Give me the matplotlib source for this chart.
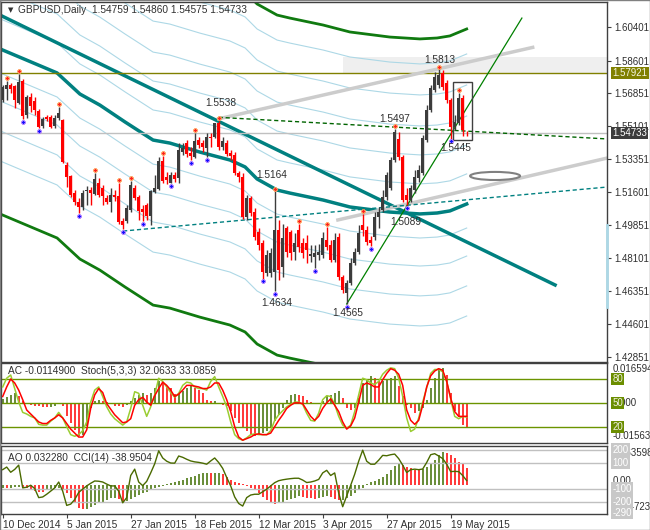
import numpy as np
import matplotlib
matplotlib.use("Agg")
import matplotlib.pyplot as plt
import matplotlib.transforms as mtransforms
from matplotlib.patches import Rectangle, Ellipse

plt.rcParams['font.family'] = ['Liberation Sans', 'DejaVu Sans']

# ---- daily GBPUSD candles (bar 0 = 10 Dec 2014) ----
opens = [1.5650, 1.5709, 1.5730, 1.5725, 1.5634, 1.5751, 1.5570, 1.5666, 1.5645, 1.5591,
         1.5512, 1.5560, 1.5560, 1.5512, 1.5554, 1.5544, 1.5304, 1.5246, 1.5155, 1.5107,
         1.5081, 1.5166, 1.5171, 1.5150, 1.5208, 1.5182, 1.5129, 1.5107, 1.5145, 1.5139,
         1.5006, 1.5006, 1.5065, 1.5182, 1.5134, 1.5070, 1.5091, 1.5033, 1.5161, 1.5177,
         1.5325, 1.5240, 1.5208, 1.5251, 1.5235, 1.5373, 1.5421, 1.5368, 1.5347, 1.5437,
         1.5421, 1.5395, 1.5453, 1.5453, 1.5528, 1.5400, 1.5421, 1.5368, 1.5357, 1.5262,
         1.5240, 1.5028, 1.5129, 1.5054, 1.4948, 1.4889, 1.4730, 1.4730, 1.4735, 1.4958,
         1.4762, 1.4969, 1.4948, 1.4841, 1.4958, 1.4889, 1.4889, 1.4820, 1.4815, 1.4825,
         1.4825, 1.4905, 1.4879, 1.4799, 1.4921, 1.4708, 1.4623, 1.4676, 1.4783, 1.4841,
         1.4985, 1.4958, 1.4905, 1.4921, 1.5028, 1.5065, 1.5134, 1.5182, 1.5331, 1.5443,
         1.5347, 1.5145, 1.5118, 1.5171, 1.5235, 1.5262, 1.5437, 1.5597, 1.5703, 1.5730,
         1.5794, 1.5740, 1.5650, 1.5506, 1.5528, 1.5661, 1.54759]
highs = [1.5730, 1.5751, 1.5740, 1.5730, 1.5788, 1.5762, 1.5677, 1.5687, 1.5666, 1.5602,
         1.5560, 1.5570, 1.5570, 1.5570, 1.5613, 1.5549, 1.5320, 1.5251, 1.5171, 1.5129,
         1.5171, 1.5192, 1.5187, 1.5262, 1.5235, 1.5198, 1.5145, 1.5182, 1.5171, 1.5208,
         1.5022, 1.5091, 1.5219, 1.5198, 1.5145, 1.5091, 1.5102, 1.5171, 1.5251, 1.5347,
         1.5352, 1.5267, 1.5267, 1.5267, 1.5421, 1.5421, 1.5437, 1.5400, 1.5474, 1.5453,
         1.5437, 1.5474, 1.5474, 1.5530, 1.5538, 1.5453, 1.5437, 1.5384, 1.5373, 1.5272,
         1.5262, 1.5145, 1.5139, 1.5075, 1.4969, 1.4905, 1.4852, 1.4863, 1.5164, 1.5012,
         1.4990, 1.4980, 1.4958, 1.4942, 1.4990, 1.4916, 1.4932, 1.4878, 1.4878, 1.4884,
         1.4948, 1.4974, 1.4905, 1.4942, 1.4942, 1.4719, 1.4692, 1.4809, 1.4863, 1.4985,
         1.5044, 1.4980, 1.4926, 1.5054, 1.5081, 1.5171, 1.5267, 1.5347, 1.5497, 1.5480,
         1.5357, 1.5182, 1.5198, 1.5278, 1.5304, 1.5464, 1.5623, 1.5730, 1.5799, 1.5813,
         1.5810, 1.5756, 1.5661, 1.5570, 1.5687, 1.5677, 1.54860]
lows = [1.5639, 1.5650, 1.5687, 1.5607, 1.5629, 1.5549, 1.5554, 1.5586, 1.5570, 1.5501,
        1.5501, 1.5538, 1.5501, 1.5501, 1.5544, 1.5315, 1.5187, 1.5134, 1.5091, 1.5049,
        1.5065, 1.5091, 1.5091, 1.5145, 1.5134, 1.5091, 1.5097, 1.5054, 1.5113, 1.4990,
        1.4964, 1.4996, 1.5054, 1.5118, 1.5012, 1.5006, 1.5012, 1.4985, 1.5155, 1.5171,
        1.5208, 1.5203, 1.5208, 1.5214, 1.5208, 1.5357, 1.5347, 1.5331, 1.5341, 1.5395,
        1.5373, 1.5347, 1.5400, 1.5448, 1.5384, 1.5384, 1.5352, 1.5331, 1.5251, 1.5214,
        1.5017, 1.5012, 1.5033, 1.4905, 1.4852, 1.4700, 1.4714, 1.4710, 1.4634, 1.4692,
        1.4708, 1.4815, 1.4799, 1.4799, 1.4841, 1.4809, 1.4783, 1.4788, 1.4756, 1.4799,
        1.4809, 1.4852, 1.4788, 1.4788, 1.4692, 1.4623, 1.4565, 1.4666, 1.4772, 1.4831,
        1.4926, 1.4879, 1.4873, 1.4905, 1.4969, 1.5054, 1.5118, 1.5171, 1.5320, 1.5331,
        1.5107, 1.5089, 1.5107, 1.5155, 1.5214, 1.5251, 1.5427, 1.5586, 1.5693, 1.5714,
        1.5703, 1.5634, 1.5445, 1.5490, 1.5517, 1.5459, 1.54575]
closes = [1.5719, 1.5730, 1.5709, 1.5650, 1.5746, 1.5565, 1.5666, 1.5618, 1.5597, 1.5506,
          1.5549, 1.5549, 1.5506, 1.5554, 1.5581, 1.5320, 1.5240, 1.5145, 1.5107, 1.5081,
          1.5155, 1.5171, 1.5155, 1.5230, 1.5145, 1.5139, 1.5107, 1.5145, 1.5134, 1.5001,
          1.4985, 1.5075, 1.5198, 1.5129, 1.5059, 1.5054, 1.5033, 1.5166, 1.5182, 1.5325,
          1.5219, 1.5224, 1.5251, 1.5230, 1.5384, 1.5395, 1.5363, 1.5352, 1.5432, 1.5411,
          1.5400, 1.5453, 1.5448, 1.5528, 1.5400, 1.5432, 1.5363, 1.5352, 1.5262, 1.5240,
          1.5028, 1.5129, 1.5049, 1.4921, 1.4879, 1.4735, 1.4825, 1.4836, 1.4958, 1.4746,
          1.4916, 1.4841, 1.4836, 1.4889, 1.4868, 1.4836, 1.4852, 1.4831, 1.4836, 1.4841,
          1.4916, 1.4868, 1.4799, 1.4905, 1.4708, 1.4639, 1.4676, 1.4783, 1.4841, 1.4942,
          1.4958, 1.4894, 1.4889, 1.5028, 1.5054, 1.5134, 1.5251, 1.5331, 1.5480, 1.5347,
          1.5118, 1.5118, 1.5182, 1.5240, 1.5278, 1.5448, 1.5597, 1.5714, 1.5772, 1.5783,
          1.5719, 1.5650, 1.5506, 1.5533, 1.5661, 1.5490, 1.54733]

date_labels = ['10 Dec 2014', '5 Jan 2015', '27 Jan 2015', '18 Feb 2015',
               '12 Mar 2015', '3 Apr 2015', '27 Apr 2015', '19 May 2015']
date_bars = [0, 16, 32, 48, 64, 80, 96, 112]

# fractals
up_fractals = [1, 4, 14, 23, 29, 32, 40, 48, 54, 68, 74, 81, 90, 98, 109, 114]
down_fractals = [5, 9, 19, 30, 35, 42, 47, 51, 65, 68, 78, 86, 92, 101, 112]

# moving average read at knots (bar, price)
ma_bars = [-1.2, 0, 13.6, 19.3, 24.3, 30.6, 37.6, 41.8, 49.3, 56.8, 60.6, 63.6,
           68.6, 71.8, 80.1, 86.8, 96.8, 104.3, 108.6, 111.8, 116]
ma_price = [1.5927, 1.5916, 1.5794, 1.5682, 1.5623, 1.5533, 1.5437, 1.5421, 1.5373,
            1.5331, 1.5294, 1.5230, 1.5171, 1.5155, 1.5118, 1.5081, 1.5054, 1.5044,
            1.5049, 1.5060, 1.5097]
band_offsets = [0.0798, 0.0633, 0.0468, 0.0314, 0.0160, -0.0128, -0.0277, -0.0436, -0.0596]
outer_offsets = [0.0931, -0.0878]

# oscillators
stoch_k = [70, 81, 85, 68, 51, 38, 36, 33, 31, 23, 22, 22, 27, 31, 38, 31, 20, 10, 8, 10,
           15, 26, 51, 66, 70, 58, 45, 36, 30, 26, 22, 26, 43, 64, 62, 47, 33, 45, 60, 81,
           77, 70, 63, 57, 62, 72, 76, 75, 70, 68, 68, 66, 77, 83, 70, 58, 45, 26, 10, 5,
           3, 6, 10, 11, 10, 10, 10, 15, 28, 35, 40, 45, 48, 51, 51, 48, 37, 28, 27, 37,
           54, 59, 58, 48, 33, 22, 18, 22, 39, 60, 81, 79, 75, 73, 77, 86, 91, 94, 93, 81,
           58, 31, 14, 17, 31, 51, 69, 87, 92, 92, 89, 77, 55, 33, 30, 33, 32.0633]
stoch_d = [58, 70, 80, 75, 66, 54, 41, 36, 31, 26, 24, 24, 28, 31, 35, 31, 24, 17, 12, 7,
           7, 16, 43, 60, 68, 63, 49, 42, 35, 30, 25, 26, 30, 47, 54, 57, 51, 47, 59, 68,
           76, 72, 66, 58, 61, 66, 72, 72, 71, 70, 68, 68, 70, 75, 75, 66, 54, 39, 20, 7,
           3, 5, 7, 10, 11, 10, 10, 12, 20, 28, 35, 43, 47, 50, 50, 49, 41, 33, 28, 33,
           43, 50, 55, 47, 39, 26, 17, 21, 31, 51, 72, 75, 73, 70, 70, 79, 87, 93, 91, 86,
           72, 41, 28, 23, 28, 47, 70, 84, 90, 93, 91, 77, 56, 39, 33, 33, 33.0859]
ac_milli = [1.9, 2.8, 4.0, 4.7, 3.2, 0.8, -0.5, -0.8, -1.3, -1.6,
            -1.9, -2.1, -1.7, -1.3, -0.5, -1.4, -6.3, -9.5, -12.6, -15.6,
            -15.0, -11.1, -2.4, 0.8, 1.5, 0.9, 0.3, -0.6, -1.3, -1.6,
            -1.9, -0.8, 0.8, 2.4, 4.0, 4.7, 4.0, 4.7, 7.1, 10.3,
            9.5, 7.9, 7.1, 4.4, 4.7, 5.5, 7.1, 7.9, 7.1, 6.3,
            4.7, 1.6, 0.8, 0.9, -0.3, -0.8, -1.6, -4.0, -7.1, -9.5,
            -11.9, -13.4, -15.0, -15.6, -15.0, -14.2, -13.4, -11.9, -8.7, -5.5,
            -2.4, 1.6, 4.0, 4.4, 4.0, 3.2, 1.6, 0.5, -0.5, -0.3,
            0.8, 3.2, 4.0, 4.7, 5.5, 2.4, -2.4, -3.2, -2.4, 2.4,
            9.5, 11.1, 12.6, 11.8, 10.3, 10.5, 11.1, 11.9, 12.6, 7.9,
            3.2, -0.8, -2.4, -4.7, -4.0, -2.4, 1.6, 7.1, 11.9, 15.8,
            16.6, 13.4, 4.7, -4.0, -6.3, -10.3, -11.49]
ao_milli = [-5.1, -6.4, -5.1, -3.9, -3.2, -5.1, -6.4, -9.0, -11.6, -12.9,
            -12.9, -9.6, -7.7, -6.4, -5.1, -7.7, -16.1, -25.7, -35.4, -43.7,
            -47.2, -46.3, -41.8, -38.6, -35.4, -32.2, -28.9, -25.7, -24.4, -27.0,
            -32.2, -30.9, -27.0, -23.1, -19.3, -15.4, -12.9, -9.6, -6.4, -3.2,
            -1.3, 1.3, 3.2, 5.1, 7.7, 10.3, 12.9, 16.1, 18.0, 20.6,
            22.5, 23.1, 22.5, 23.1, 23.8, 21.2, 16.1, 10.3, 6.4, 3.2,
            1.3, -1.9, -5.1, -9.6, -16.1, -22.5, -28.9, -33.4, -36.0, -35.4,
            -32.2, -29.6, -27.0, -24.4, -21.9, -23.1, -24.4, -25.7, -26.4, -25.7,
            -23.1, -21.2, -23.1, -27.0, -28.9, -28.3, -25.7, -20.6, -16.1, -10.3,
            -5.1, 1.9, 5.1, 8.4, 11.6, 15.4, 20.6, 28.9, 37.3, 39.9,
            38.6, 35.4, 32.2, 29.6, 28.3, 30.9, 35.4, 41.8, 48.9, 57.9,
            63.6, 62.4, 57.9, 51.4, 45.0, 39.9, 32.28]
cci = [45, 65, 25, 47, 80, -95, -90, -75, -100, -170,
       -165, -144, -120, -95, -50, -120, -230, -220, -185, -130,
       -105, -80, -60, -42, -44, -50, -66, -80, -80, -120,
       -210, -170, 0, 49, -50, -78, -45, 20, 90, 190,
       135, 110, 96, 95, 150, 140, 125, 112, 105, 101,
       95, 87, 112, 135, 100, 55, -15, -80, -165, -215,
       -235, -170, -150, -144, -144, -125, -105, -80, -55, -40,
       -33, -28, -24, -21, -21, -35, -54, -50, -42, -30,
       20, 40, 0, 20, -135, -240, -157, -75, 10, 110,
       195, 110, 87, 87, 118, 155, 152, 160, 165, 130,
       80, 23, 45, 49, 45, 50, 100, 160, 168, 150,
       130, 87, 30, 32, 30, 0, -38.9504]

price_ticks = [1.60401, 1.58601, 1.56851, 1.55101, 1.53351, 1.51601,
               1.49851, 1.48101, 1.46351, 1.44601, 1.42851]
hline_level = 1.57921
bid = 1.54733

# ---------------------------------------------------------------
o, h, l, c = map(np.array, (opens, highs, lows, closes))
idx = np.arange(len(o))
XMIN, XMAX = -0.425, 151.08
TXT = '#303030'
BULL, BEAR = '#3c3c3c', '#ff0000'
TEAL = '#008080'
LBLUE = '#add8e6'
LEVEL = '#6b9400'
FS = 7

fig = plt.figure(figsize=(6.5, 5.3), dpi=100)
fig.patch.set_facecolor('white')
L, W = 1 / 650, 606 / 650
ax = fig.add_axes([L, 168 / 530, W, 360 / 530])
ax1 = fig.add_axes([L, 87 / 530, W, 80.5 / 530])
ax2 = fig.add_axes([L, 16 / 530, W, 68 / 530])

for a in (ax, ax1, ax2):
    a.set_xlim(XMIN, XMAX)
    a.set_xticks([])
    for s in a.spines.values():
        s.set_color('#404040')
        s.set_linewidth(1)


def right_text(a, y, s, bg=None, fg=TXT, z=5):
    tr = mtransforms.blended_transform_factory(a.transAxes, a.transData)
    kw = dict(transform=tr, va='center', ha='left', fontsize=FS, color=fg,
              clip_on=False, zorder=z)
    if bg is not None:
        kw['bbox'] = dict(boxstyle='square,pad=0.12', fc=bg, ec='none')
    a.text(1.009, y, s, **kw)


# ---------------- main price panel ----------------
ax.set_ylim(1.42563, 1.61715)
ax.add_patch(Rectangle((85.1, 1.5794), XMAX - 85.1, 0.0085, fc='#efefef', ec='none', zorder=0))

ma_b = np.array(ma_bars)
ma_p = np.array(ma_price)
for off in band_offsets:
    ax.plot(ma_b, ma_p + off, color=LBLUE, lw=0.8, zorder=1)
for off in outer_offsets:
    ax.plot(ma_b, ma_p + off, color='#107a10', lw=2, zorder=1)
ax.plot(ma_b, ma_p, color=TEAL, lw=2.5, zorder=2)
# long descending trendline
ax.plot([-0.675, 138.1], [1.6102, 1.4666], color=TEAL, lw=2.5, zorder=2)

ax.axhline(hline_level, color='#808000', lw=1, zorder=2)
ax.axhline(bid, color='#c0c0c0', lw=1, zorder=2)

# channel and trend lines
ax.plot([54, 132.5], [1.5550, 1.5930], color='#cccccc', lw=2.5, zorder=2)
ax.plot([83.8, XMAX], [1.5012, 1.5341], color='#cccccc', lw=2.5, zorder=2)
ax.plot([54, XMAX], [1.5558, 1.5443], color='#006400', lw=1, ls=(0, (3, 2)), zorder=2)
ax.plot([30.1, XMAX], [1.4953, 1.5187], color=TEAL, lw=1, ls=(0, (3, 2)), zorder=2)
ax.plot([86, 129.8], [1.4565, 1.6086], color='#008000', lw=0.9, zorder=2)
ax.add_patch(Ellipse((123.1, 1.5246), 12.5, 0.0043, fill=False, ec='#808080', lw=1.5, zorder=3))

# candles
up = c >= o
cols = np.where(up, BULL, BEAR)
ax.vlines(idx, l, h, colors=cols, lw=1, zorder=4)
body = np.maximum(np.abs(c - o), 0.00025)
ax.bar(idx, body, bottom=np.minimum(o, c), width=0.75, color=cols, zorder=5)

ax.add_patch(Rectangle((112.6, 1.5437), 4.7, 0.0309, fill=False, ec='#404040', lw=1, zorder=6))

uf = np.array(up_fractals)
df = np.array(down_fractals)
ax.scatter(uf, h[uf] + 0.0015, marker='P', s=11, c='#ff2020', edgecolors='#ffb060',
           linewidths=0.5, zorder=7)
ax.scatter(df, l[df] - 0.0015, marker='P', s=11, c='#1010ff', edgecolors='#c080ff',
           linewidths=0.5, zorder=7)

# swing labels: (text, bar, price position)
swing_text = ['1.5538', '1.5164', '1.4634', '1.4565', '1.5497', '1.5813', '1.5089', '1.5445']
swing_pos = [(54.6, 1.5634), (67.3, 1.5251), (68.6, 1.4570), (86.3, 1.4517),
             (98.1, 1.5549), (109.3, 1.5863), (100.8, 1.5001), (113.3, 1.5395)]
for s, (xb, yp) in zip(swing_text, swing_pos):
    ax.text(xb, yp, s, fontsize=FS + 0.3, color=TXT, ha='center', va='center', zorder=8)

ax.yaxis.tick_right()
ax.set_yticks(price_ticks)
ax.set_yticklabels([f'{v:.5f}' for v in price_ticks])
ax.tick_params(axis='y', direction='out', length=3, pad=2, labelsize=FS,
               colors='#404040', labelcolor=TXT)
right_text(ax, hline_level, '1.57921', bg='#808000', fg='#f4f4e0')
right_text(ax, bid, '1.54733', bg='#3c3c3c', fg='white')
ax.plot([XMAX - 0.05] * 2, [1.4551, 1.4987], color=LBLUE, lw=2, zorder=9, clip_on=False)

ax.text(0.012, 0.978, '\u25bc', transform=ax.transAxes, fontsize=5, color=TXT, va='center',
        family=['DejaVu Sans'])
ax.text(0.028, 0.978, 'GBPUSD,Daily  1.54759 1.54860 1.54575 1.54733',
        transform=ax.transAxes, fontsize=FS + 0.3, color=TXT, va='center')

# ---------------- AC + Stochastic ----------------
ax1.set_ylim(-0.5, 100.75)
ax1.set_yticks([])
ac = np.array(ac_milli)
ac_col = ['#3f6e00'] + ['#3f6e00' if ac[i] > ac[i - 1] else '#ff0000' for i in range(1, len(ac))]
ax1b = ax1.twinx()
ax1b.set_xlim(XMIN, XMAX)
ax1b.set_ylim(-19.0, 19.2)
ax1b.set_yticks([])
for s in ax1b.spines.values():
    s.set_visible(False)
ax1b.vlines(idx, 0, ac, colors=ac_col, lw=1.1, zorder=2)
for lv in (80, 50, 20):
    ax1.axhline(lv, color=LEVEL, lw=1, zorder=1)
ax1.set_zorder(ax1b.get_zorder() + 1)
ax1.patch.set_visible(False)
ax1.plot(idx, stoch_k, color='#9acd32', lw=1.1, zorder=3)
ax1.plot(idx, stoch_d, color='#ff0000', lw=1.1, zorder=4)
ax1.text(0.011, 0.9, 'AC -0.0114900  Stoch(5,3,3) 32.0633 33.0859', transform=ax1.transAxes,
         fontsize=FS + 0.3, color=TXT, va='center')
right_text(ax1, 92, '0.016594')
right_text(ax1, 8, '-0.015637')
right_text(ax1, 50, '0.000')
for lv in (80, 50, 20):
    right_text(ax1, lv, str(lv), bg='#6b8e00', fg='#f0f0e0', z=6)

# ---------------- AO + CCI ----------------
ax2.set_ylim(-296, 227)
ax2.set_yticks([])
ao = np.array(ao_milli)
ao_col = ['#3f6e00'] + ['#3f6e00' if ao[i] > ao[i - 1] else '#ff0000' for i in range(1, len(ao))]
ax2b = ax2.twinx()
ax2b.set_xlim(XMIN, XMAX)
ax2b.set_ylim(-56.0, 75.3)
ax2b.set_yticks([])
for s in ax2b.spines.values():
    s.set_visible(False)
ax2b.vlines(idx, 0, ao, colors=ao_col, lw=1.1, zorder=2)
for lv in (200, 100, -100, -200):
    ax2.axhline(lv, color='#c0c0c0', lw=1, zorder=1)
ax2.set_zorder(ax2b.get_zorder() + 1)
ax2.patch.set_visible(False)
ax2.plot(idx, cci, color='#4a6a00', lw=1, zorder=3)
ax2.text(0.011, 0.83, 'AO 0.032280  CCI(14) -38.9504', transform=ax2.transAxes,
         fontsize=FS + 0.3, color=TXT, va='center')
right_text(ax2, 175, '0.063598')
right_text(ax2, -45, '0.00')
right_text(ax2, -245, '-0.047238')
for lv in (200, 100, -100, -200, -290):
    right_text(ax2, lv, str(lv), bg='#c8c8c8', fg='white', z=6)

# date axis
ax2.set_xticks(date_bars)
ax2.set_xticklabels(date_labels)
ax2.tick_params(axis='x', direction='out', length=3, pad=1.5, labelsize=FS + 0.3,
                colors='#404040', labelcolor=TXT)
for t in ax2.get_xticklabels():
    t.set_horizontalalignment('left')

fig.patches.append(Rectangle((0, 0), 1, 1, transform=fig.transFigure, fill=False,
                             ec='#808080', lw=1))
fig.savefig('out.png', dpi=100, facecolor='white')
